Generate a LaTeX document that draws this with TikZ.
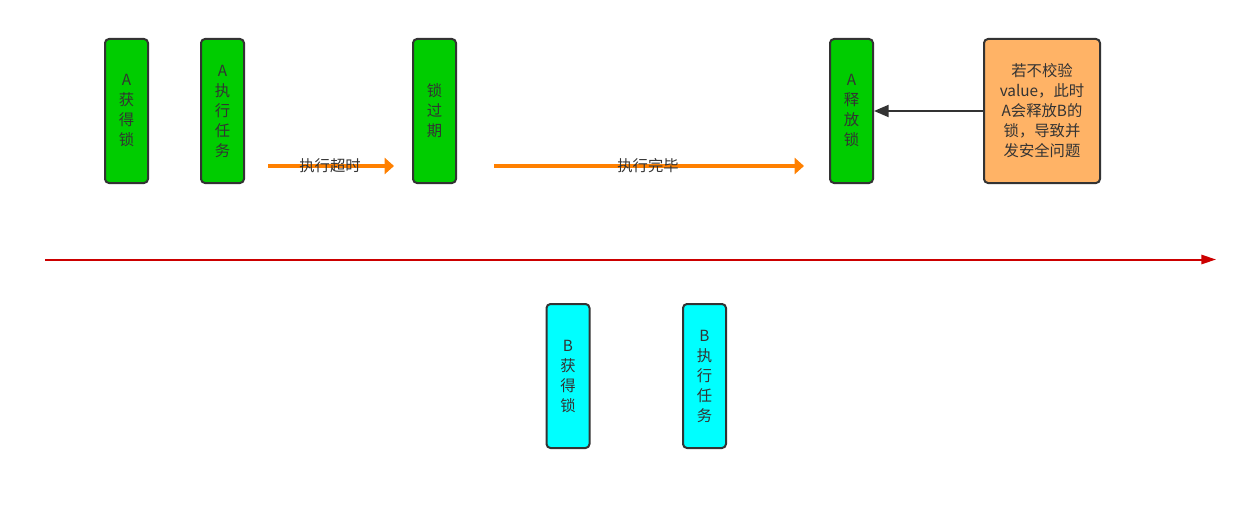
\documentclass[tikz,border=0pt]{standalone}
\usepackage{fontspec}
\setmainfont{Noto Sans CJK SC}
\usepackage{tikz}
\usepackage{xcolor}
\usetikzlibrary{arrows.meta,positioning}
\definecolor{lkgreen}{HTML}{00CC00}
\definecolor{lkcyan}{HTML}{00FFFF}
\definecolor{lknote}{HTML}{FFB366}
\definecolor{lkorange}{HTML}{FF8000}
\definecolor{lkred}{HTML}{CC0000}
\definecolor{lkink}{HTML}{333333}
\tikzset{
  stepBase/.style={draw=lkink, line width=1.5pt, rounded corners=3pt, align=center, inner sep=2pt, text=lkink, font=\fontsize{11.5}{15}\selectfont},
  greenBox/.style={stepBase, fill=lkgreen, minimum width=32.25pt, minimum height=108pt, text width=20pt},
  cyanBox/.style={stepBase, fill=lkcyan, minimum width=32.25pt, minimum height=108pt, text width=20pt},
  noteBox/.style={stepBase, fill=lknote, minimum width=87pt, minimum height=108pt, text width=72pt},
  flowArrow/.style={-{Triangle[length=7pt,width=12pt]}, line width=3.5pt, draw=lkorange},
  timeArrow/.style={-{Triangle[length=11pt,width=7pt]}, line width=1.5pt, draw=lkred},
  noteArrow/.style={-{Triangle[length=11pt,width=9pt]}, line width=1.5pt, draw=lkink},
  flowLabel/.style={font=\fontsize{11.5}{15}\selectfont, text=lkink, inner sep=0pt}
}
\begin{document}
\begin{tikzpicture}[x=0.75pt, y=-0.75pt]
  \useasboundingbox (0,0) rectangle (1248,524);

  % thread A
  \node[greenBox] (aget) at (126.5,111) {A\\获\\得\\锁};
  \node[greenBox] (arun) at (222.5,111) {A\\执\\行\\任\\务};
  \node[greenBox] (expire) at (434.5,111) {锁\\过\\期};
  \node[greenBox] (arel) at (851.5,111) {A\\释\\放\\锁};
  \node[noteBox] (note) at (1042,111) {若不校验\\value，此时\\A会释放B的\\锁，导致并\\发安全问题};

  % thread B
  \node[cyanBox] (bget) at (568,376) {B\\获\\得\\锁};
  \node[cyanBox] (brun) at (704.5,376) {B\\执\\行\\任\\务};

  % arrow end points
  \coordinate (runS) at (268,166);
  \coordinate (runE) at (394,166);
  \coordinate (doneS) at (494,166);
  \coordinate (doneE) at (804,166);
  \coordinate (axisS) at (45,259.5);
  \coordinate (axisE) at (1216,259.5);

  \draw[flowArrow] (runS) -- (runE);
  \draw[flowArrow] (doneS) -- (doneE);
  \node[flowLabel] (runlab) at (330,166) {执行超时};
  \node[flowLabel] (donelab) at (648,166) {执行完毕};

  \draw[noteArrow] (note.west) -- (arel.east);
  \draw[timeArrow] (axisS) -- (axisE);
\end{tikzpicture}
\end{document}
